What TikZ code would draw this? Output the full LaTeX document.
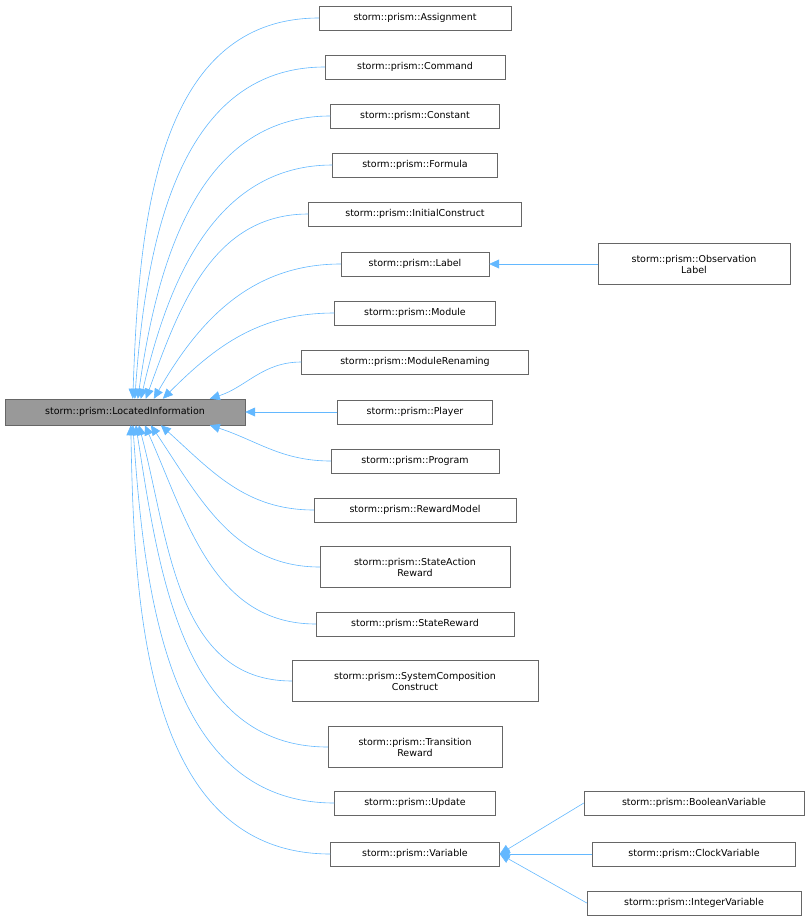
\documentclass[tikz,border=0pt]{standalone}
\usepackage{fontspec}
\setmainfont{DejaVu Sans}
\usetikzlibrary{arrows.meta,positioning}
\definecolor{edgeblue}{HTML}{63B8FF}
\definecolor{boxgray}{HTML}{666666}
\tikzstyle{cls} = [draw=boxgray, fill=white, inner sep=2pt, align=center, font=\fontsize{9.5}{11}\selectfont]
\tikzstyle{edge} = [edgeblue, line width=0.6pt, -{Triangle[width=9pt,length=10pt,fill=edgeblue]}]
\begin{document}
\begin{tikzpicture}[x=1pt,y=-1pt]
\useasboundingbox (0,0) rectangle (809,921);
\node (li) [cls, fill=gray!80, minimum width=240, minimum height=26] at (125,412) {storm::prism::LocatedInformation};
%
\node (asg) [cls, minimum width=192, minimum height=24] at (415,18) {storm::prism::Assignment};
\node (cmd) [cls, minimum width=180, minimum height=24] at (415,67) {storm::prism::Command};
\node (cst) [cls, minimum width=169, minimum height=24] at (415,116) {storm::prism::Constant};
\node (frm) [cls, minimum width=165, minimum height=24] at (415,165) {storm::prism::Formula};
\node (ini) [cls, minimum width=213, minimum height=24] at (415,214) {storm::prism::InitialConstruct};
\node (lab) [cls, minimum width=148, minimum height=24] at (415,264) {storm::prism::Label};
\node (obs) [cls, minimum width=192, minimum height=41] at (694,264) {storm::prism::Observation\\Label};
\node (mod) [cls, minimum width=161, minimum height=24] at (415,313) {storm::prism::Module};
\node (mren) [cls, minimum width=227, minimum height=24] at (415,362) {storm::prism::ModuleRenaming};
\node (ply) [cls, minimum width=155, minimum height=24] at (415,412) {storm::prism::Player};
\node (prg) [cls, minimum width=168, minimum height=24] at (415,461) {storm::prism::Program};
\node (rwm) [cls, minimum width=202, minimum height=24] at (415,510) {storm::prism::RewardModel};
\node (sar) [cls, minimum width=190, minimum height=41] at (415,567) {storm::prism::StateAction\\Reward};
\node (srw) [cls, minimum width=198, minimum height=24] at (415,624) {storm::prism::StateReward};
\node (scc) [cls, minimum width=246, minimum height=41] at (415,681) {storm::prism::SystemComposition\\Construct};
\node (trw) [cls, minimum width=174, minimum height=41] at (415,747) {storm::prism::Transition\\Reward};
\node (upd) [cls, minimum width=161, minimum height=24] at (415,803) {storm::prism::Update};
\node (var) [cls, minimum width=169, minimum height=24] at (415,854) {storm::prism::Variable};
\node (bvar) [cls, minimum width=220, minimum height=24] at (694,803) {storm::prism::BooleanVariable};
\node (cvar) [cls, minimum width=203, minimum height=24] at (694,854) {storm::prism::ClockVariable};
\node (ivar) [cls, minimum width=214, minimum height=24] at (694,903) {storm::prism::IntegerVariable};
%
\foreach \n/\dx/\ang in {asg/128/88, cmd/130/86, cst/133/82, frm/136/77, ini/141/70, lab/149/60, mod/158/45, mren/205/18}
  \draw[edge] (\n.west) to[out=180,in=\ang] ([xshift=\dx]li.north west);
\draw[edge] (ply) -- (li);
\foreach \n/\dx/\ang in {prg/205/-18, rwm/156/-42, sar/146/-56, srw/140/-66, scc/134/-75, trw/131/-81, upd/128/-86, var/126/-89}
  \draw[edge] (\n.west) to[out=180,in=\ang] ([xshift=\dx]li.south west);
\draw[edge] (obs) -- (lab);
\draw[edge] (bvar.west) -- (var.east);
\draw[edge] (cvar) -- (var);
\draw[edge] (ivar.west) -- (var.east);
\end{tikzpicture}
\end{document}
